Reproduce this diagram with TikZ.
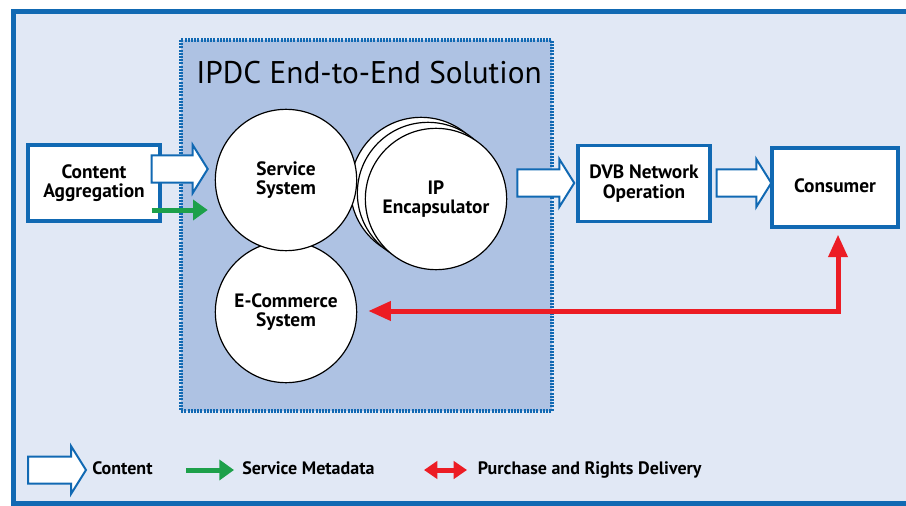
\documentclass[tikz,border=0pt]{standalone}
\usepackage{fontspec}
\setmainfont{PT Sans}
\usetikzlibrary{arrows.meta,calc,positioning}

\definecolor{panelbg}{HTML}{E1E8F5}
\definecolor{panelblue}{HTML}{1169B3}
\definecolor{solutionbg}{HTML}{AEC2E3}
\definecolor{metagreen}{HTML}{1DA04A}
\definecolor{rightsred}{HTML}{EC1C24}

\newcommand{\ipdclabel}{\bfseries\fontsize{14.5}{14.5}\selectfont}
\newcommand{\ipdclegend}{\bfseries\fontsize{13.5}{16}\selectfont}
\newcommand{\ipdctitle}{\fontsize{23.5}{26}\selectfont}

\tikzset{
  blockbox/.style={draw=panelblue, line width=2.6pt, fill=white, minimum width=99pt, minimum height=57pt, align=center, font=\ipdclabel},
  unitcircle/.style={circle, draw=black, line width=0.9pt, fill=white, minimum size=106pt, inner sep=0pt, align=center, font=\ipdclabel},
  contentarrow/.style={draw=panelblue, line width=1.5pt, fill=white, line join=miter},
  metaarrow/.style={draw=metagreen, line width=3.75pt, -{Triangle[length=11pt,width=15pt]}},
  rightsarrow/.style={draw=rightsred, line width=3.75pt, {Triangle[length=17pt,width=14pt]}-{Triangle[length=17pt,width=14pt]}},
  rightskey/.style={draw=rightsred, line width=3.75pt, {Triangle[length=10pt,width=13pt]}-{Triangle[length=10pt,width=13pt]}},
  legendtext/.style={anchor=west, font=\ipdclegend, inner sep=0pt, text height=10pt, text depth=3pt},
}

% hollow content arrow between two points at the same height
\newcommand{\fatarrow}[2]{%
  \draw[contentarrow] ($(#1)+(0,-13.5)$) -- ($(#1 -| #2)+(-15,-13.5)$)
    -- ($(#1 -| #2)+(-15,-24)$) -- (#1 -| #2) -- ($(#1 -| #2)+(-15,24)$)
    -- ($(#1 -| #2)+(-15,13.5)$) -- ($(#1)+(0,13.5)$) -- cycle;}

\begin{document}
\begin{tikzpicture}[x=0.75pt,y=0.75pt,yscale=-1,xscale=1]
\useasboundingbox (0,0) rectangle (906,506);
\clip (0,0) rectangle (906,506);

%Outer panel
\draw[panelblue, line width=3.75pt, fill=panelbg] (13,12) rectangle (925,503);

%IPDC solution area
\fill[solutionbg] (181,40) rectangle (552,411);
\draw[panelblue, line width=3.6pt, dash pattern=on 1.5pt off 0.9pt] (181,40) rectangle (552,411);
\node[font=\ipdctitle] (title) at (369,73) {IPDC End-to-End Solution};

%Blocks
\node[blockbox] (agg) at (94,183) {Content\\Aggregation};
\node[blockbox] (dvb) at (644,183.5) {DVB Network\\Operation};
\node[blockbox, minimum width=94.5pt, minimum height=59pt] (cons) at (835,187.5) {\raisebox{3pt}{Consumer}};

%Systems
\node[unitcircle] (ecom) at (286,312) {E-Commerce\\System};
\node[unitcircle] (ipback) at (421,188) {};
\node[unitcircle] (ipmid) at (428,193) {};
\node[unitcircle] (ipenc) at (436,199) {IP\\Encapsulator};
\node[unitcircle] (svc) at (286,180) {Service\\System};

%Content flow
\coordinate (aggout) at ($(agg.east)+(-10,-14)$);
\coordinate (svcin) at ($(svc.west)+(-7,-11)$);
\coordinate (ipout) at ($(ipenc.east)+(10,-16)$);
\coordinate (dvbin) at ($(dvb.west)+(-2,-0.5)$);
\coordinate (dvbout) at ($(dvb.east)+(5,-0.5)$);
\coordinate (consin) at ($(cons.west)+(1,-4.5)$);
\fatarrow{aggout}{svcin}
\fatarrow{ipout}{dvbin}
\fatarrow{dvbout}{consin}

%Service metadata
\draw[metaarrow] ($(agg.east)+(-10,27)$) -- ($(svc.west)+(-7,30)$);

%Purchase and rights
\draw[rightsarrow] ($(ecom.east)+(11,-1)$) -| ($(cons.south)+(3,6)$);

%Legend
\coordinate (keya) at (28,470);
\coordinate (keyb) at (86,470);
\fatarrow{keya}{keyb}
\node[legendtext, right=4.5pt of keyb] (keycontent) {Content};
\coordinate (keyc) at (186,470);
\coordinate (keyd) at (234,470);
\draw[metaarrow] (keyc) -- (keyd);
\node[legendtext, right=6pt of keyd] (keymeta) {Service Metadata};
\coordinate (keye) at (424,470);
\coordinate (keyf) at (467,470);
\draw[rightskey] (keye) -- (keyf);
\node[legendtext, right=8pt of keyf] (keyrights) {Purchase and Rights Delivery};

\end{tikzpicture}
\end{document}
